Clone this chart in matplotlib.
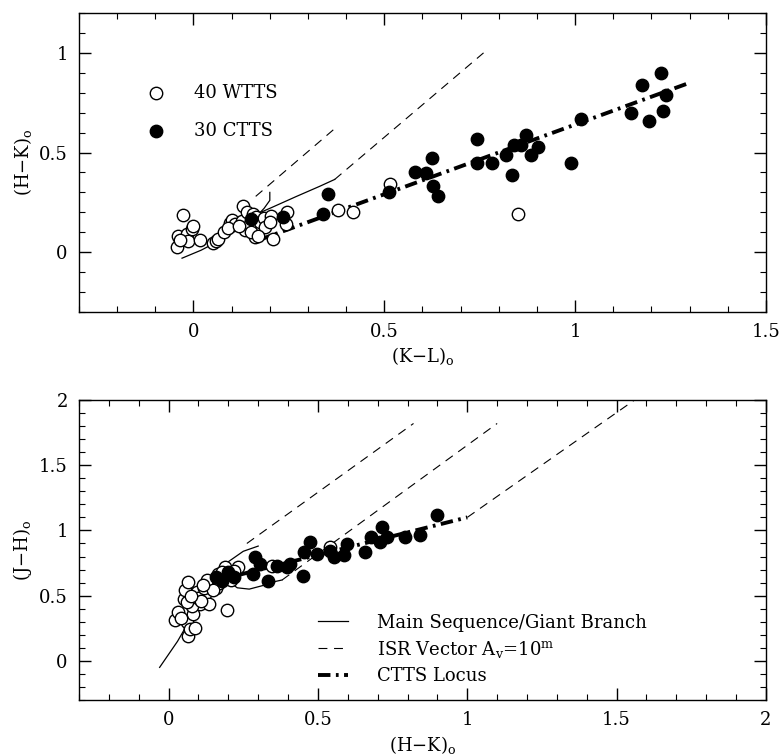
import numpy as np
import matplotlib.pyplot as plt
from matplotlib.lines import Line2D
from matplotlib.ticker import MultipleLocator

plt.rcParams["font.family"] = "DejaVu Serif"
plt.rcParams["mathtext.fontset"] = "dejavuserif"

# sample sizes quoted in the legend
n_wtts = 40
n_ctts = 30

# ── top panel: (H-K)o vs (K-L)o ──────────────────────────────────────────────
wtts_kl_top = [-0.044, -0.040, -0.027, -0.018, -0.014, -0.005, 0.000, 0.017, 0.051, 0.060,
               0.065, 0.080, 0.095, 0.100, 0.110, 0.126, 0.130, 0.135, 0.140, 0.148,
               0.155, 0.160, 0.165, 0.174, 0.185, 0.187, 0.204, 0.209, 0.243, 0.245,
               0.379, 0.418, 0.514, 0.851, -0.035, 0.090, 0.120, 0.200, 0.150, 0.170]
wtts_hk_top = [0.025, 0.083, 0.187, 0.090, 0.058, 0.117, 0.130, 0.063, 0.047, 0.055,
               0.067, 0.100, 0.147, 0.160, 0.140, 0.158, 0.230, 0.110, 0.200, 0.140,
               0.190, 0.075, 0.175, 0.150, 0.170, 0.125, 0.183, 0.067, 0.140, 0.200,
               0.210, 0.200, 0.340, 0.190, 0.060, 0.120, 0.130, 0.150, 0.100, 0.080]

ctts_kl_top = [0.152, 0.235, 0.340, 0.353, 0.512, 0.580, 0.610, 0.626, 0.628, 0.640,
               0.743, 0.743, 0.783, 0.819, 0.835, 0.839, 0.859, 0.870, 0.885, 0.902,
               0.990, 1.016, 1.147, 1.175, 1.193, 1.225, 1.231, 1.238]
ctts_hk_top = [0.167, 0.175, 0.190, 0.290, 0.300, 0.400, 0.395, 0.475, 0.330, 0.280,
               0.570, 0.450, 0.447, 0.490, 0.387, 0.540, 0.540, 0.590, 0.490, 0.530,
               0.447, 0.670, 0.700, 0.840, 0.660, 0.900, 0.710, 0.790]

dwarf_kl_top = [-0.03, 0.02, 0.08, 0.13, 0.16, 0.185, 0.20, 0.20]
dwarf_hk_top = [-0.03, 0.01, 0.07, 0.13, 0.17, 0.22, 0.26, 0.30]
giant_kl_top = [0.14, 0.20, 0.27, 0.33, 0.37]
giant_hk_top = [0.17, 0.22, 0.28, 0.33, 0.365]
isr_kl_top = [[0.163, 0.37], [0.37, 0.76]]
isr_hk_top = [[0.28, 0.62], [0.365, 1.00]]
locus_kl_top = [0.17, 1.30]
locus_hk_top = [0.06, 0.85]

# ── bottom panel: (J-H)o vs (H-K)o ───────────────────────────────────────────
wtts_hk_bot = [0.022, 0.033, 0.050, 0.055, 0.061, 0.066, 0.066, 0.072, 0.083, 0.095,
               0.106, 0.123, 0.134, 0.150, 0.167, 0.178, 0.190, 0.195, 0.206, 0.234,
               0.346, 0.541, 0.040, 0.080, 0.100, 0.120, 0.140, 0.160, 0.110, 0.130,
               0.170, 0.200, 0.090, 0.150, 0.180, 0.210, 0.060, 0.075, 0.115, 0.220]
wtts_jh_bot = [0.310, 0.374, 0.477, 0.540, 0.295, 0.603, 0.190, 0.243, 0.360, 0.526,
               0.436, 0.513, 0.436, 0.590, 0.667, 0.628, 0.718, 0.387, 0.667, 0.718,
               0.731, 0.870, 0.330, 0.420, 0.480, 0.560, 0.600, 0.560, 0.460, 0.620,
               0.600, 0.640, 0.250, 0.540, 0.680, 0.620, 0.450, 0.500, 0.580, 0.690]

ctts_hk_bot = [0.160, 0.180, 0.200, 0.220, 0.284, 0.290, 0.306, 0.334, 0.363, 0.396,
               0.407, 0.450, 0.452, 0.474, 0.497, 0.541, 0.553, 0.586, 0.597, 0.659,
               0.676, 0.709, 0.715, 0.730, 0.790, 0.841, 0.897]
ctts_jh_bot = [0.640, 0.610, 0.680, 0.640, 0.667, 0.795, 0.744, 0.615, 0.731, 0.718,
               0.744, 0.654, 0.833, 0.910, 0.820, 0.846, 0.795, 0.808, 0.897, 0.833,
               0.950, 0.910, 1.026, 0.950, 0.950, 0.962, 1.115]

dwarf_hk_bot = [-0.03, 0.00, 0.03, 0.05, 0.065, 0.08, 0.10, 0.13, 0.17, 0.20,
                0.23, 0.27, 0.32, 0.36, 0.38]
dwarf_jh_bot = [-0.05, 0.05, 0.15, 0.23, 0.32, 0.41, 0.51, 0.58, 0.62, 0.61,
                0.56, 0.55, 0.58, 0.61, 0.62]
giant_hk_bot = [0.13, 0.16, 0.20, 0.25, 0.30]
giant_jh_bot = [0.58, 0.66, 0.76, 0.84, 0.88]
isr_hk_bot = [[0.262, 0.82], [0.38, 1.10], [1.00, 1.56]]
isr_jh_bot = [[0.90, 1.82], [0.62, 1.82], [1.10, 2.00]]
locus_hk_bot = [0.15, 1.00]
locus_jh_bot = [0.61, 1.10]

# ── styles ────────────────────────────────────────────────────────────────────
ms_kw = dict(color="black", lw=0.9)
isr_kw = dict(color="black", lw=0.8, dashes=(8, 6))
locus_kw = dict(color="black", lw=2.8, dashes=(3.2, 1.4, 0.7, 1.4))
open_kw = dict(s=80, facecolors="white", edgecolors="black", linewidths=1.0, zorder=3)
fill_kw = dict(s=80, facecolors="black", edgecolors="black", linewidths=1.0, zorder=4)


def style_axes(ax, xlim, ylim):
    ax.set_xlim(*xlim)
    ax.set_ylim(*ylim)
    ax.xaxis.set_major_locator(MultipleLocator(0.5))
    ax.xaxis.set_minor_locator(MultipleLocator(0.1))
    ax.yaxis.set_major_locator(MultipleLocator(0.5))
    ax.yaxis.set_minor_locator(MultipleLocator(0.1))
    ax.xaxis.set_major_formatter(lambda v, p: f"{v:g}")
    ax.yaxis.set_major_formatter(lambda v, p: f"{v:g}")
    ax.tick_params(which="both", direction="in", top=True, right=True, labelsize=13, pad=8)
    ax.tick_params(which="major", length=8.5, width=1.0)
    ax.tick_params(which="minor", length=4.3, width=0.8)
    for sp in ax.spines.values():
        sp.set_linewidth(1.0)


fig = plt.figure(figsize=(7.82, 7.56), dpi=100)
ax1 = fig.add_axes([0.101, 0.5873, 0.8785, 0.3955])
ax2 = fig.add_axes([0.101, 0.0741, 0.8785, 0.3968])

# top
ax1.plot(dwarf_kl_top, dwarf_hk_top, **ms_kw)
ax1.plot(giant_kl_top, giant_hk_top, **ms_kw)
for xs, ys in zip(isr_kl_top, isr_hk_top):
    ax1.plot(xs, ys, **isr_kw)
ax1.plot(locus_kl_top, locus_hk_top, **locus_kw)
h_open = ax1.scatter(wtts_kl_top, wtts_hk_top, **open_kw)
h_fill = ax1.scatter(ctts_kl_top, ctts_hk_top, **fill_kw)
style_axes(ax1, (-0.3, 1.5), (-0.3, 1.2))
ax1.set_xlabel(r"(K$-$L)$_{\rm o}$", fontsize=13)
ax1.set_ylabel(r"(H$-$K)$_{\rm o}$", fontsize=13)
ax1.xaxis.set_label_coords(0.5, -0.11)
ax1.yaxis.set_label_coords(-0.066, 0.5)
ax1.legend([h_open, h_fill], [f"{n_wtts} WTTS", f"{n_ctts} CTTS"],
           loc="center left", bbox_to_anchor=(0.099, 0.67), frameon=False,
           fontsize=13, handlelength=1.0, handletextpad=1.6, labelspacing=1.1,
           borderpad=0, borderaxespad=0, scatterpoints=1)

# bottom
ax2.plot(dwarf_hk_bot, dwarf_jh_bot, **ms_kw)
ax2.plot(giant_hk_bot, giant_jh_bot, **ms_kw)
for xs, ys in zip(isr_hk_bot, isr_jh_bot):
    ax2.plot(xs, ys, **isr_kw)
ax2.plot(locus_hk_bot, locus_jh_bot, **locus_kw)
ax2.scatter(wtts_hk_bot, wtts_jh_bot, **open_kw)
ax2.scatter(ctts_hk_bot, ctts_jh_bot, **fill_kw)
style_axes(ax2, (-0.3, 2.0), (-0.3, 2.0))
ax2.set_xlabel(r"(H$-$K)$_{\rm o}$", fontsize=13)
ax2.set_ylabel(r"(J$-$H)$_{\rm o}$", fontsize=13)
ax2.xaxis.set_label_coords(0.5, -0.115)
ax2.yaxis.set_label_coords(-0.066, 0.5)
handles = [Line2D([], [], **ms_kw), Line2D([], [], **isr_kw), Line2D([], [], **locus_kw)]
labels = ["Main Sequence/Giant Branch", r"ISR Vector A$_{\rm v}$=10$^{\rm m}$", "CTTS Locus"]
ax2.legend(handles, labels, loc="center left", bbox_to_anchor=(0.348, 0.169), frameon=False,
           fontsize=13, handlelength=1.67, handletextpad=1.6, labelspacing=0.4,
           borderpad=0, borderaxespad=0)

fig.savefig("out.png", dpi=100)
